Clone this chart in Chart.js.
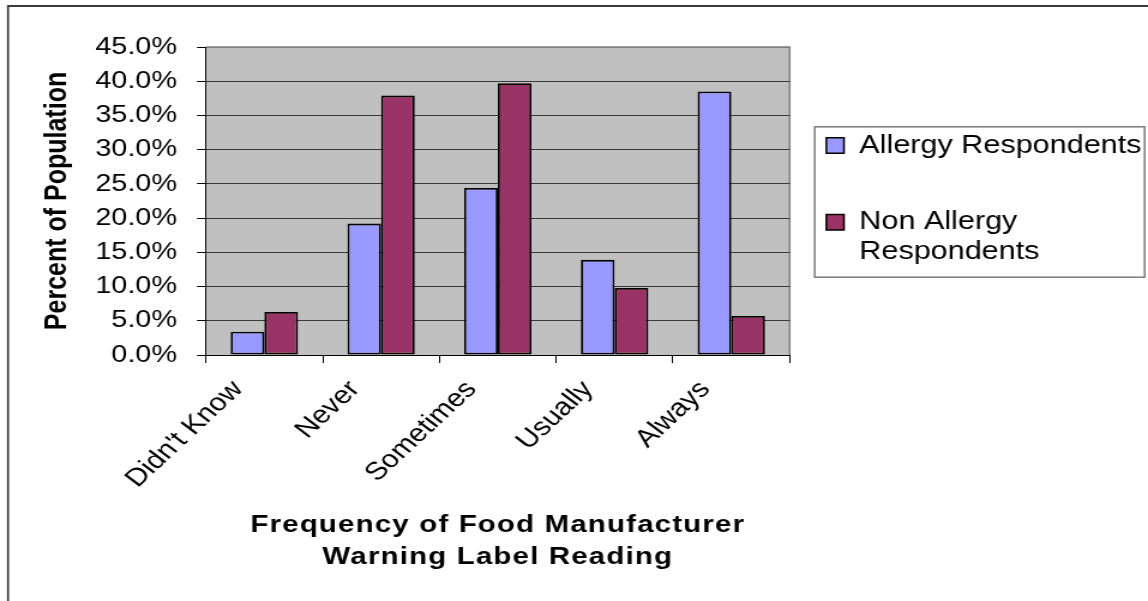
<!DOCTYPE html>
<html>
<head>
<meta charset="utf-8">
<script src="https://cdn.jsdelivr.net/npm/chart.js@4/dist/chart.umd.min.js"></script>
<style>
  html, body { margin: 0; padding: 0; background: #fff; overflow: hidden; width: 1148px; height: 601px; }
  /* the chart is laid out on a narrower canvas and widened horizontally */
  #wrap { position: absolute; left: 0; top: 0; width: 957px; height: 601px;
          transform: scaleX(1.19958); transform-origin: 0 0; }
</style>
</head>
<body>
<div id="wrap"><canvas id="chart" width="957" height="601"></canvas></div>
<script>
// ---- data ----
const categories = ["Didn't Know", 'Never', 'Sometimes', 'Usually', 'Always'];
const allergyRespondents = [3.4, 19.2, 24.4, 13.9, 38.5];
const nonAllergyRespondents = [6.3, 37.9, 39.7, 9.8, 5.7];
const seriesNames = ['Allergy Respondents', 'Non Allergy Respondents'];
const legendLines = [['Allergy Respondents'], ['Non Allergy', 'Respondents']];
const yTickValues = [0, 5, 10, 15, 20, 25, 30, 35, 40, 45];
const yTitle = 'Percent of Population';
const xTitleLines = ['Frequency of Food Manufacturer', 'Warning Label Reading'];

const seriesColors = ['#9999ff', '#993366'];
const FONT = '"Liberation Sans", Arial, Helvetica, sans-serif';
Chart.defaults.font.family = FONT;
Chart.defaults.color = '#000';

// outer chart border, grey plot area and its grey top/right edge
const plotFrame = {
  id: 'plotFrame',
  beforeDraw(chart) {
    const { ctx, chartArea: a } = chart;
    ctx.save();
    ctx.strokeStyle = '#3c3c3c';
    ctx.beginPath();
    ctx.lineWidth = 2;
    ctx.moveTo(6.2, 6);
    ctx.lineTo(chart.width, 6);
    ctx.stroke();
    ctx.beginPath();
    ctx.lineWidth = 1.7;
    ctx.moveTo(6.7, 5);
    ctx.lineTo(6.7, chart.height);
    ctx.stroke();

    ctx.fillStyle = '#c0c0c0';
    ctx.fillRect(a.left, a.top, a.right - a.left, a.bottom - a.top);
    ctx.strokeStyle = '#808080';
    ctx.lineWidth = 1.5;
    ctx.beginPath();
    ctx.moveTo(a.left, a.top);
    ctx.lineTo(a.right, a.top);
    ctx.lineTo(a.right, a.bottom);
    ctx.stroke();
    ctx.restore();
  }
};

// wider letter spacing for the layers drawn after the bars (x-axis title)
const titleSpacing = {
  id: 'titleSpacing',
  afterDatasetsDraw(chart) { chart.ctx.letterSpacing = '1px'; },
  afterDraw(chart) { chart.ctx.letterSpacing = '0px'; }
};

// border box around the legend entries
const legendFrame = {
  id: 'legendFrame',
  afterDraw(chart) {
    const lg = chart.legend;
    if (!lg || !lg.legendHitBoxes || !lg.legendHitBoxes.length) return;
    const hb = lg.legendHitBoxes;
    const first = hb[0], last = hb[hb.length - 1];
    const x0 = first.left - 9.7, y0 = first.top - 6;
    const x1 = chart.width - 2.8, y1 = last.top + last.height + 8;
    const ctx = chart.ctx;
    ctx.save();
    ctx.strokeStyle = '#7a7a7a';
    ctx.lineWidth = 1.5;
    ctx.strokeRect(x0, y0, x1 - x0, y1 - y0);
    ctx.restore();
  }
};

new Chart(document.getElementById('chart'), {
  type: 'bar',
  data: {
    labels: categories,
    datasets: [
      { label: seriesNames[0], data: allergyRespondents, backgroundColor: seriesColors[0],
        borderColor: '#000', borderWidth: 1.8, borderSkipped: false },
      { label: seriesNames[1], data: nonAllergyRespondents, backgroundColor: seriesColors[1],
        borderColor: '#000', borderWidth: 1.8, borderSkipped: false }
    ]
  },
  plugins: [plotFrame, titleSpacing, legendFrame],
  options: {
    responsive: false,
    animation: false,
    events: [],
    devicePixelRatio: 1,
    categoryPercentage: 0.577,
    barPercentage: 1.0,
    layout: { padding: { top: 47, left: 33.6, right: 0, bottom: 0 } },
    scales: {
      x: {
        type: 'category',
        offset: true,
        grid: { display: true, drawOnChartArea: false, drawTicks: true, tickLength: 8,
                color: '#000', tickColor: '#000', offset: true, z: 1 },
        border: { display: true, color: '#000', width: 1, z: 1 },
        ticks: { color: '#000', font: { size: 25 }, minRotation: 48, maxRotation: 48,
                 padding: 12, labelOffset: -22, autoSkip: false },
        title: { display: true, text: xTitleLines, color: '#000',
                 font: { size: 24.5, weight: 'bold', lineHeight: 1.3 },
                 padding: { top: 0, bottom: 28 } },
        afterFit(scale) { scale.height = 246; }
      },
      y: {
        type: 'linear',
        min: 0,
        max: 45,
        afterBuildTicks(scale) { scale.ticks = yTickValues.map(v => ({ value: v })); },
        grid: { drawOnChartArea: true, drawTicks: true, tickLength: 7.5, lineWidth: 1,
                color: (c) => (c.tick && c.tick.value === 45) ? '#808080' : '#3a3a3a',
                tickColor: '#000' },
        border: { display: true, color: '#000', width: 1 },
        ticks: { color: '#000', font: { size: 24 }, padding: 16.7,
                 callback: (v) => Number(v).toFixed(1) + '%' },
        title: { display: true, text: yTitle, color: '#000',
                 font: { size: 25, weight: 'bold', lineHeight: 1.2 }, padding: 0 },
        afterFit(scale) { scale.width = 138.1; }
      },
      gap: {
        type: 'linear',
        position: 'right',
        display: true,
        grid: { display: false, drawTicks: false },
        border: { display: false },
        ticks: { display: false },
        afterFit(scale) { scale.width = 17.7; }
      }
    },
    plugins: {
      tooltip: { enabled: false },
      title: { display: false },
      legend: {
        display: true,
        position: 'right',
        align: 'center',
        fullSize: false,
        maxWidth: 281,
        labels: {
          color: '#000',
          font: { size: 25.5, lineHeight: 1.17 },
          boxWidth: 14.7,
          boxHeight: 15.5,
          padding: 12.85,
          generateLabels(chart) {
            const ds = chart.data.datasets;
            return [
              { text: legendLines[0][0], fillStyle: ds[0].backgroundColor, strokeStyle: '#000',
                lineWidth: 1.5, hidden: false, datasetIndex: 0 },
              { text: ' '.repeat(80), fillStyle: 'rgba(0,0,0,0)', strokeStyle: 'rgba(0,0,0,0)',
                lineWidth: 0, hidden: false },
              { text: legendLines[1], fillStyle: ds[1].backgroundColor, strokeStyle: '#000',
                lineWidth: 1.5, hidden: false, datasetIndex: 1 }
            ];
          }
        }
      }
    }
  }
});
</script>
</body>
</html>
